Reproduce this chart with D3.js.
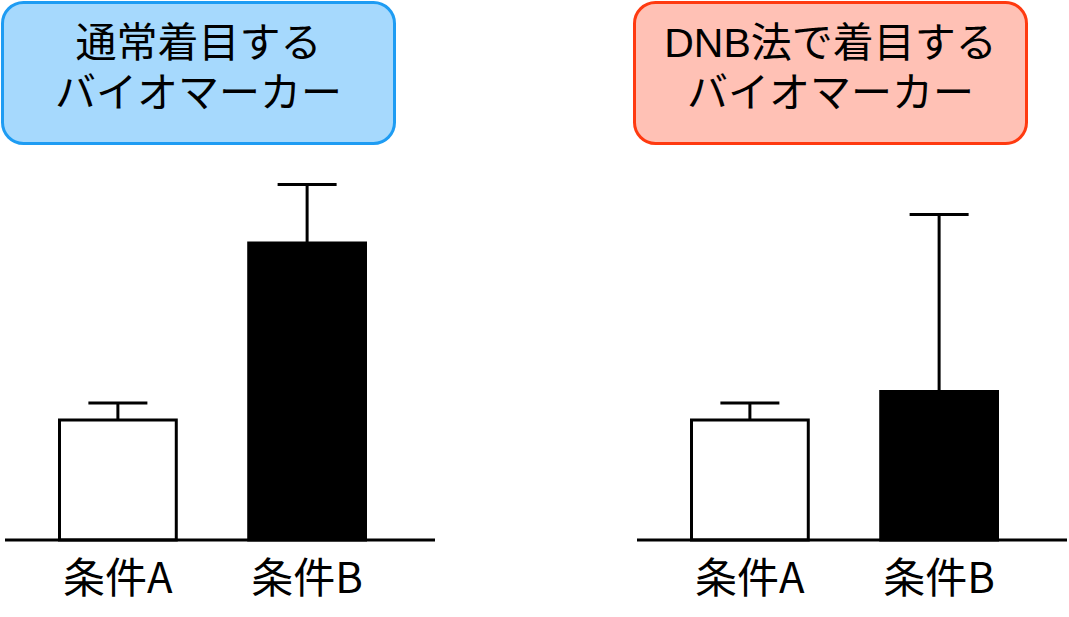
<!DOCTYPE html>
<html><head><meta charset="utf-8">
<script src="https://cdn.jsdelivr.net/npm/d3@7"></script>
<style>body{margin:0;background:#fff}svg{display:block}text{font-family:"Noto Sans CJK JP","Noto Sans",sans-serif}text.ttl{font-family:"Liberation Sans","Noto Sans CJK JP",sans-serif}</style>
</head><body>
<svg id="c" width="1069" height="617"></svg>
<script>
const categories = ["条件A", "条件B"];
const panelTitles = [["通常着目する", "バイオマーカー"], ["DNB法で着目する", "バイオマーカー"]];
const valuesUsual = [40, 99];
const errorsUsual = [5.7, 19.5];
const valuesDNB = [40, 49.5];
const errorsDNB = [5.7, 59];
const barFills = ["#ffffff", "#000000"];
const boxFills = ["#a6d9fd", "#ffc1b5"];
const boxStrokes = ["#1e9cf3", "#ff3a10"];

const panels = [
  {title: panelTitles[0], values: valuesUsual, errors: errorsUsual, offset: 0},
  {title: panelTitles[1], values: valuesDNB, errors: errorsDNB, offset: 632}
];

const svg = d3.select("#c");
const y = d3.scaleLinear().domain([0, 120]).range([540, 180]);

panels.forEach((p, pi) => {
  const g = svg.append("g").attr("transform", `translate(${p.offset},0)`);
  const x = d3.scaleBand().domain(categories).range([58, 367]).paddingInner(0.367).paddingOuter(0);

  // title box
  g.append("rect").attr("x", 2.5).attr("y", 2.5).attr("width", 392).attr("height", 141)
    .attr("rx", 21).attr("ry", 21)
    .attr("fill", boxFills[pi]).attr("stroke", boxStrokes[pi]).attr("stroke-width", 3);
  p.title.forEach((line, i) => {
    g.append("text").attr("class", "ttl").attr("text-anchor", "middle").attr("font-size", 41)
      .attr("fill", "#000").attr("x", 198.5).attr("y", 57 + i * 50).text(line);
  });

  // error bars
  categories.forEach((c, i) => {
    const cx = x(c) + x.bandwidth() / 2;
    const top = y(p.values[i] + p.errors[i]);
    g.append("line").attr("x1", cx).attr("x2", cx).attr("y1", y(p.values[i])).attr("y2", top)
      .attr("stroke", "#000").attr("stroke-width", 3);
    g.append("line").attr("x1", cx - 29.5).attr("x2", cx + 29.5).attr("y1", top).attr("y2", top)
      .attr("stroke", "#000").attr("stroke-width", 3);
  });

  // bars
  g.selectAll("rect.bar").data(categories).join("rect").attr("class", "bar")
    .attr("x", (c) => x(c) + 1.5)
    .attr("width", x.bandwidth() - 3)
    .attr("y", (c, i) => y(p.values[i]))
    .attr("height", (c, i) => y(0) - y(p.values[i]))
    .attr("fill", (c, i) => barFills[i])
    .attr("stroke", "#000").attr("stroke-width", 3);

  // baseline
  g.append("line").attr("x1", 5).attr("x2", 435).attr("y1", y(0)).attr("y2", y(0))
    .attr("stroke", "#000").attr("stroke-width", 3);

  // category labels
  g.selectAll("text.lab").data(categories).join("text").attr("class", "lab")
    .attr("x", (c) => x(c) + x.bandwidth() / 2)
    .attr("y", 593).attr("text-anchor", "middle").attr("font-size", 42).attr("fill", "#000")
    .text((c) => c);
});
</script>
</body></html>
